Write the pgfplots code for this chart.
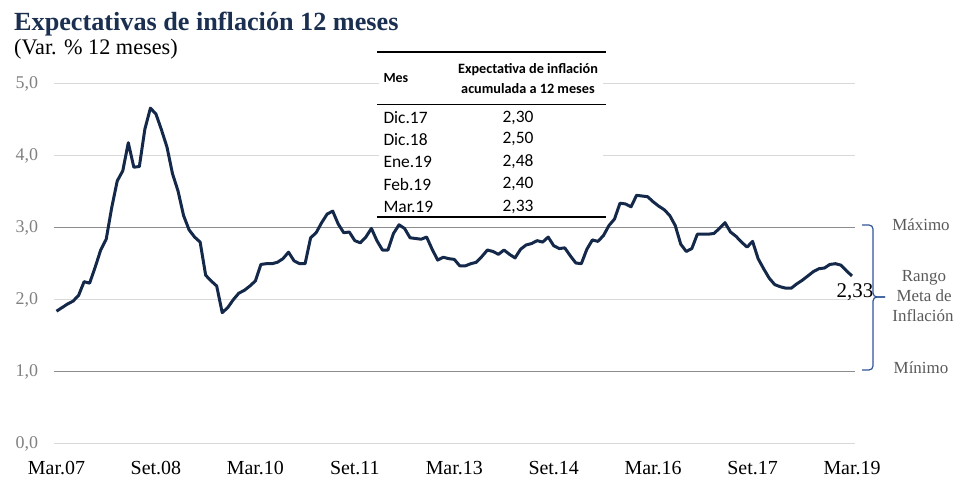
\documentclass[border=0pt]{standalone}
\usepackage{fontspec}
\setmainfont{Liberation Serif}
\newfontfamily\tabfont{Carlito}
\usepackage{pgfplots}
\usepackage{pgfplotstable}
\pgfplotsset{compat=1.18}
\definecolor{navy}{HTML}{14294A}
\definecolor{titlec}{HTML}{1B3050}
\definecolor{gridc}{HTML}{D9D9D9}
\definecolor{refc}{HTML}{8C8C8C}
\definecolor{tickc}{HTML}{808080}
\definecolor{annc}{HTML}{595959}
\definecolor{bracec}{HTML}{2F5597}

\pgfplotstableread{
m v
0 1.84
1 1.89
2 1.94
3 1.98
4 2.06
5 2.25
6 2.23
7 2.45
8 2.69
9 2.84
10 3.28
11 3.65
12 3.79
13 4.18
14 3.84
15 3.85
16 4.37
17 4.66
18 4.58
19 4.36
20 4.12
21 3.75
22 3.51
23 3.17
24 2.97
25 2.87
26 2.80
27 2.34
28 2.26
29 2.19
30 1.82
31 1.89
32 2.00
33 2.09
34 2.13
35 2.19
36 2.26
37 2.49
38 2.50
39 2.50
40 2.52
41 2.57
42 2.66
43 2.54
44 2.50
45 2.50
46 2.86
47 2.93
48 3.07
49 3.19
50 3.23
51 3.05
52 2.93
53 2.94
54 2.82
55 2.79
56 2.87
57 2.99
58 2.82
59 2.69
60 2.69
61 2.92
62 3.04
63 2.99
64 2.86
65 2.85
66 2.84
67 2.87
68 2.70
69 2.55
70 2.59
71 2.57
72 2.56
73 2.47
74 2.47
75 2.50
76 2.52
77 2.60
78 2.69
79 2.67
80 2.63
81 2.69
82 2.63
83 2.58
84 2.70
85 2.76
86 2.78
87 2.82
88 2.80
89 2.87
90 2.75
91 2.71
92 2.72
93 2.61
94 2.51
95 2.50
96 2.70
97 2.83
98 2.81
99 2.89
100 3.03
101 3.12
102 3.34
103 3.33
104 3.29
105 3.45
106 3.44
107 3.43
108 3.36
109 3.30
110 3.25
111 3.17
112 3.03
113 2.77
114 2.67
115 2.71
116 2.91
117 2.91
118 2.91
119 2.92
120 2.99
121 3.07
122 2.94
123 2.88
124 2.80
125 2.73
126 2.81
127 2.57
128 2.43
129 2.30
130 2.21
131 2.18
132 2.16
133 2.16
134 2.22
135 2.27
136 2.33
137 2.39
138 2.43
139 2.44
140 2.49
141 2.50
142 2.48
143 2.40
144 2.33
}\datatable

\begin{document}
\begin{tikzpicture}[x=1bp,y=1bp]
\useasboundingbox (0,0) rectangle (957,477);
\begin{axis}[
  at={(53.5bp,33.3bp)}, anchor=south west,
  scale only axis, width=801.5bp, height=360bp,
  xmin=-0.54, xmax=144.54, ymin=0, ymax=5,
  axis line style={draw=none},
  major tick length=0pt,
  ymajorgrids, grid style={gridc, line width=1.1bp},
  ytick={0,1,2,3,4,5},
  xtick={0,18,36,54,72,90,108,126,144},
  xticklabels={Mar.07,Set.08,Mar.10,Set.11,Mar.13,Set.14,Mar.16,Set.17,Mar.19},
  /pgf/number format/assume math mode=true,
  yticklabel={\pgfmathprintnumber[fixed,fixed zerofill,precision=1,use comma]{\tick}},
  yticklabel style={font=\fontsize{18}{20}\selectfont, text=tickc, anchor=east, xshift=-12bp},
  xticklabel style={font=\fontsize{20}{22}\selectfont, text=black, anchor=base, yshift=-30.5bp},
  clip=false,
]
\addplot[refc, line width=1.3bp, forget plot] coordinates {(-0.54,3) (144.54,3)};
\addplot[refc, line width=1.3bp, forget plot] coordinates {(-0.54,1) (144.54,1)};
\addplot[navy, line width=3bp, line join=round] table[x=m, y=v] {\datatable};
\end{axis}

% title
\node[anchor=base west, inner sep=0, font=\fontsize{26.3}{28}\selectfont\bfseries, text=titlec] at (14,446.5) {Expectativas de inflación 12 meses};
\node[anchor=base west, inner sep=0, font=\fontsize{22.3}{24}\selectfont, text=black] at (14,422) {(Var. \% 12 meses)};

% table
\fill[white] (379,259) rectangle (603,432);
\draw[black, line width=2bp] (377,425.3) -- (606,425.3);
\draw[black, line width=1.5bp] (377,372.5) -- (606,372.5);
\draw[black, line width=2bp] (377,259.5) -- (606,259.5);
\node[anchor=west, inner sep=0, font=\tabfont\fontsize{14}{15}\selectfont\bfseries] at (383.3,398.7) {Mes};
\node[anchor=center, inner sep=0, font=\tabfont\fontsize{14.3}{15}\selectfont\bfseries] at (528,407) {Expectativa de inflación};
\node[anchor=center, inner sep=0, font=\tabfont\fontsize{14.3}{15}\selectfont\bfseries] at (528,388.7) {acumulada a 12 meses};
\foreach \lab/\val/\yy in {Dic.17/{2,30}/359.3, Dic.18/{2,50}/337.7, Ene.19/{2,48}/315.3, Feb.19/{2,40}/292.7, Mar.19/{2,33}/270.3} {
  \node[anchor=west, inner sep=0, font=\tabfont\fontsize{17.5}{19}\selectfont] at (383.3,\yy) {\lab};
  \node[anchor=center, inner sep=0, font=\tabfont\fontsize{17.5}{19}\selectfont] at (518,\yy) {\val};
}

% last value label
\node[anchor=base, inner sep=0, font=\fontsize{21}{23}\selectfont] at (855,179) {2,33};

% brace
\draw[bracec, line width=1.2bp, rounded corners=4bp] (862,252) -- (873,252) -- (873,180) -- (885,180);
\draw[bracec, line width=1.2bp, rounded corners=4bp] (862,107) -- (873,107) -- (873,180) -- (885,180);

% annotations
\node[anchor=base, inner sep=0, font=\fontsize{17}{19}\selectfont, text=annc] at (921,246.3) {Máximo};
\node[anchor=base, inner sep=0, font=\fontsize{17}{19}\selectfont, text=annc] at (924,195.3) {Rango};
\node[anchor=base, inner sep=0, font=\fontsize{17}{19}\selectfont, text=annc] at (924,175.3) {Meta de};
\node[anchor=base, inner sep=0, font=\fontsize{17}{19}\selectfont, text=annc] at (923,155.3) {Inflación};
\node[anchor=base, inner sep=0, font=\fontsize{17}{19}\selectfont, text=annc] at (921,103.7) {Mínimo};
\end{tikzpicture}
\end{document}
